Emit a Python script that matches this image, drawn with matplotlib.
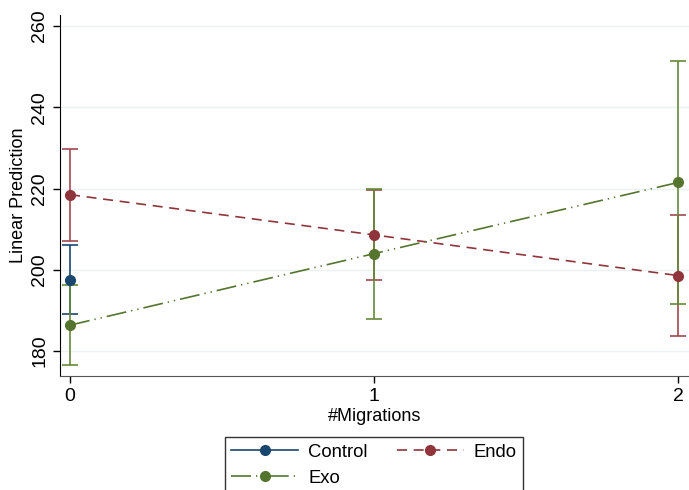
import matplotlib.pyplot as plt
from matplotlib.lines import Line2D

# margins: predicted values with 95% CI by number of migrations
migrations = [0, 1, 2]
control_x = [0]
control_y = [197.6]
control_lo = [189.1]
control_hi = [206.0]

endo_y = [218.5, 208.6, 198.6]
endo_lo = [207.1, 197.6, 183.8]
endo_hi = [229.8, 219.6, 213.6]

exo_y = [186.4, 204.0, 221.5]
exo_lo = [176.6, 188.0, 191.6]
exo_hi = [196.2, 220.0, 251.5]

yticks = [180, 200, 220, 240, 260]

c_control = '#1a476f'
c_endo = '#90353b'
c_exo = '#55752f'
c_endo_ci = '#a2484f'
c_exo_ci = '#648a37'

plt.rcParams['font.family'] = ['Liberation Sans', 'DejaVu Sans']

fig = plt.figure(figsize=(6.89, 4.9), dpi=100)
ax = fig.add_axes([0.0871, 0.2327, 0.9129, 0.7367])

for yt in yticks:
    ax.axhline(yt, color='#eaf2f3', lw=1.0, zorder=0)

# confidence intervals
ax.errorbar(control_x, control_y,
            yerr=[[a - b for a, b in zip(control_y, control_lo)],
                  [b - a for a, b in zip(control_y, control_hi)]],
            fmt='none', ecolor=c_control, elinewidth=1.2, capsize=6, capthick=1.2, zorder=2)
ax.errorbar(migrations, endo_y,
            yerr=[[a - b for a, b in zip(endo_y, endo_lo)],
                  [b - a for a, b in zip(endo_y, endo_hi)]],
            fmt='none', ecolor=c_endo_ci, elinewidth=1.2, capsize=6, capthick=1.2, zorder=2)
ax.errorbar(migrations, exo_y,
            yerr=[[a - b for a, b in zip(exo_y, exo_lo)],
                  [b - a for a, b in zip(exo_y, exo_hi)]],
            fmt='none', ecolor=c_exo_ci, elinewidth=1.2, capsize=6, capthick=1.2, zorder=3)

# predicted values
ax.plot(control_x, control_y, color=c_control, marker='o', ms=7, lw=1.2, zorder=4)
ax.plot(migrations, endo_y, color=c_endo, marker='o', ms=7, lw=1.2,
        dashes=(6, 4), zorder=4)
ax.plot(migrations, exo_y, color=c_exo, marker='o', ms=7, lw=1.2,
        dashes=(12, 3, 0.8, 3, 0.8, 3), zorder=5)

ax.set_xlim(-0.033, 2.036)
ax.set_ylim(173.9, 262.7)
ax.set_xticks(migrations)
ax.set_yticks(yticks)
ax.tick_params(axis='both', direction='out', length=5, width=1, labelsize=14, colors='black')
for lbl in ax.get_yticklabels():
    lbl.set_rotation(90)
    lbl.set_va('center')

ax.set_xlabel('#Migrations', fontsize=13, labelpad=2)
ax.set_ylabel('Linear Prediction', fontsize=13, labelpad=3)

ax.spines['top'].set_visible(False)
ax.spines['right'].set_visible(False)
ax.spines['left'].set_color('black')
ax.spines['bottom'].set_color('#555555')

handles = [
    Line2D([], [], color=c_control, marker='o', ms=7, lw=1.2),
    Line2D([], [], color=c_endo, marker='o', ms=7, lw=1.2, dashes=(6, 4)),
    Line2D([], [], color=c_exo, marker='o', ms=7, lw=1.2, dashes=(12, 3, 0.8, 3, 0.8, 3)),
]
# two columns: Control / Exo on the left, Endo on the right
leg = fig.legend([handles[0], handles[2], handles[1]], ['Control', 'Exo', 'Endo'],
                 ncol=2, loc='upper center', bbox_to_anchor=(0.543, 0.108),
                 borderaxespad=0, fontsize=13.3, frameon=True, fancybox=False,
                 edgecolor='black', handlelength=3.6, handletextpad=0.55,
                 columnspacing=1.6, labelspacing=0.5, borderpad=0.35)
leg.get_frame().set_linewidth(1.0)

fig.savefig('out.png', dpi=100)
